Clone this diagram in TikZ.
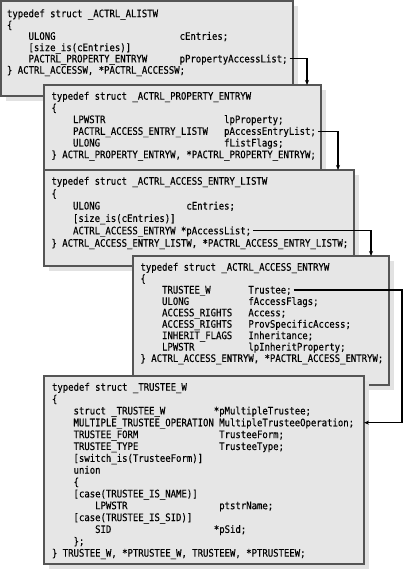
\documentclass[tikz,border=0pt]{standalone}
\usepackage{fontspec}
\usetikzlibrary{shadows,arrows.meta}
\newfontfamily\code[FakeStretch=0.87,FakeBold=0.3]{DejaVu Sans Mono}
\newlength\cw
\settowidth\cw{\code\fontsize{10.3bp}{12bp}\selectfont 0}
\newcommand\pad[2]{\makebox[#1\cw][l]{#2}}
\newcommand\ind{\hspace*{4\cw}}
\definecolor{boxfill}{HTML}{E6E6E6}
\definecolor{boxline}{HTML}{555555}
\definecolor{shade}{HTML}{E2E2E2}
\begin{document}
\begin{tikzpicture}[x=1bp,y=-1bp,
  box/.style={draw=boxline, line width=1.2bp, fill=boxfill, inner sep=0pt, outer sep=0pt,
    anchor=north west, drop shadow={shadow xshift=5bp, shadow yshift=-5bp, fill=shade, opacity=1}},
  codetext/.style={font=\code\fontsize{10.3bp}{#1}\selectfont, anchor=base west, inner sep=0pt, outer sep=0pt, text=black},
  conn/.style={draw=black, line width=1.2bp, -{Stealth[length=5bp,width=4bp]}}]
\fill[white] (0,0) rectangle (404,572);
\useasboundingbox (0,0) rectangle (404,572);
% box 1
\node[box, minimum width=292bp, minimum height=95bp] (b1) at (1,1) {};
\node[codetext=11.3bp] (t1) at (7,17.2) {\begin{tabular}[t]{@{}l@{}}
typedef struct \_ACTRL\_ALISTW\\
\{\\
\ind\pad{28}{ULONG}cEntries;\\
\ind[size\_is(cEntries)]\\
\ind\pad{28}{PACTRL\_PROPERTY\_ENTRYW}pPropertyAccessList;\\
\} ACTRL\_ACCESSW, *PACTRL\_ACCESSW;
\end{tabular}};
% box 2
\node[box, minimum width=277bp, minimum height=95bp] (b2) at (44,85) {};
\node[codetext=11.7bp] (t2) at (51.5,99.7) {\begin{tabular}[t]{@{}l@{}}
typedef struct \_ACTRL\_PROPERTY\_ENTRYW\\
\{\\
\ind\pad{28}{LPWSTR}lpProperty;\\
\ind\pad{28}{PACTRL\_ACCESS\_ENTRY\_LISTW}pAccessEntryList;\\
\ind\pad{28}{ULONG}fListFlags;\\
\} ACTRL\_PROPERTY\_ENTRYW, *PACTRL\_PROPERTY\_ENTRYW;
\end{tabular}};
% box 3
\node[box, minimum width=310bp, minimum height=96bp] (b3) at (44,170) {};
\node[codetext=12.4bp] (t3) at (51.5,184.7) {\begin{tabular}[t]{@{}l@{}}
typedef struct \_ACTRL\_ACCESS\_ENTRY\_LISTW\\
\{\\
\ind\pad{21}{ULONG}cEntries;\\
\ind[size\_is(cEntries)]\\
\ind\pad{20}{ACTRL\_ACCESS\_ENTRYW}*pAccessList;\\
\} ACTRL\_ACCESS\_ENTRY\_LISTW, *PACTRL\_ACCESS\_ENTRY\_LISTW;
\end{tabular}};
% box 4
\node[box, minimum width=256bp, minimum height=129bp] (b4) at (133,256) {};
\node[codetext=11.4bp] (t4) at (140.5,270.7) {\begin{tabular}[t]{@{}l@{}}
typedef struct \_ACTRL\_ACCESS\_ENTRYW\\
\{\\
\ind\pad{16}{TRUSTEE\_W}Trustee;\\
\ind\pad{16}{ULONG}fAccessFlags;\\
\ind\pad{16}{ACCESS\_RIGHTS}Access;\\
\ind\pad{16}{ACCESS\_RIGHTS}ProvSpecificAccess;\\
\ind\pad{16}{INHERIT\_FLAGS}Inheritance;\\
\ind\pad{16}{LPWSTR}lpInheritProperty;\\
\} ACTRL\_ACCESS\_ENTRYW, *PACTRL\_ACCESS\_ENTRYW;
\end{tabular}};
% box 5
\node[box, minimum width=320bp, minimum height=188bp] (b5) at (44,376) {};
\node[codetext=11.85bp] (t5) at (52,390.7) {\begin{tabular}[t]{@{}l@{}}
typedef struct \_TRUSTEE\_W\\
\{\\
\ind\pad{26}{struct \_TRUSTEE\_W}*pMultipleTrustee;\\
\ind\pad{27}{MULTIPLE\_TRUSTEE\_OPERATION}MultipleTrusteeOperation;\\
\ind\pad{27}{TRUSTEE\_FORM}TrusteeForm;\\
\ind\pad{27}{TRUSTEE\_TYPE}TrusteeType;\\
\ind[switch\_is(TrusteeForm)]\\
\ind union\\
\ind\{\\
\ind[case(TRUSTEE\_IS\_NAME)]\\
\ind\ind\pad{23}{LPWSTR}ptstrName;\\
\ind[case(TRUSTEE\_IS\_SID)]\\
\ind\ind\pad{22}{SID}*pSid;\\
\ind\};\\
\} TRUSTEE\_W, *PTRUSTEE\_W, TRUSTEEW, *PTRUSTEEW;
\end{tabular}};
% connector start / end points
\coordinate (s1) at ([xshift={52*\cw+2bp}, yshift=-41.6bp]t1.base west);
\coordinate (s2) at ([xshift={49*\cw+2bp}, yshift=-31.5bp]t2.base west);
\coordinate (s3) at ([xshift={37*\cw+2bp}, yshift=-46bp]t3.base west);
\coordinate (s4) at ([xshift={28*\cw+2bp}, yshift=-19.2bp]t4.base west);
\coordinate (r5) at ([yshift=-31.95bp]t5.base west);
\coordinate (e4) at (b5.east |- r5);
% connectors
\draw[conn] (s1) -| ([xshift=263bp]b2.north west);
\draw[conn] (s2) -| ([xshift=294bp]b3.north west);
\draw[conn] (s3) -| ([xshift=238bp]b4.north west);
\draw[conn] (s4) -| ([xshift=38bp]e4) -- (e4);
\end{tikzpicture}
\end{document}
